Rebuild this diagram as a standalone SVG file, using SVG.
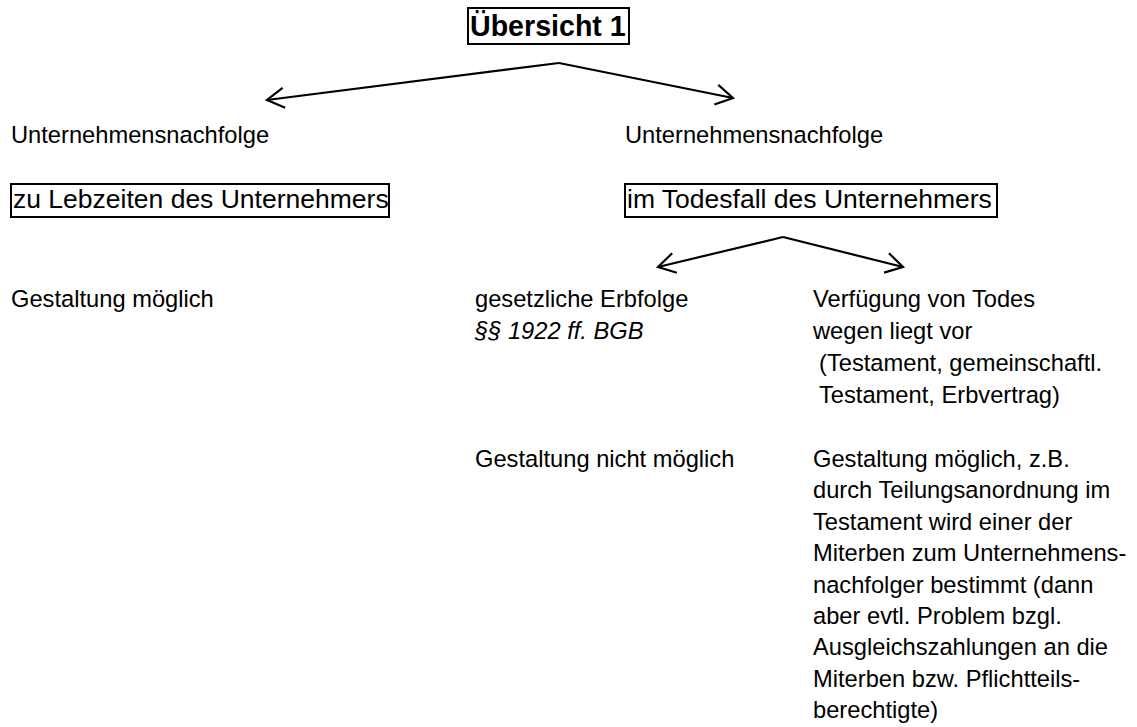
<svg xmlns="http://www.w3.org/2000/svg" width="1137" height="727" viewBox="0 0 1137 727">
<style>
text{font-family:"Liberation Sans",Arial,sans-serif;fill:#000}
.t{font-size:23.7px}
.b{font-size:26.5px}
.h{font-size:28.6px;font-weight:bold}
.i{font-style:italic}
.box{fill:none;stroke:#000;stroke-width:2}
.c{fill:none;stroke:#000;stroke-width:2.2;stroke-linejoin:miter}
</style>
<defs>
<marker id="ah" viewBox="-22 -12 24 24" markerWidth="24" markerHeight="24" refX="0" refY="0" orient="auto" markerUnits="userSpaceOnUse">
<path d="M-17,-10 L0,0 L-17,10" fill="none" stroke="#000" stroke-width="2.2"/>
</marker>
</defs>
<rect width="1137" height="727" fill="#fff"/>
<g id="title">
<rect class="box" x="468" y="8" width="161" height="36"/>
<text class="h" x="470" y="36">Übersicht 1</text>
</g>
<g id="connectors">
<path class="c" d="M559,63 L267,100" marker-end="url(#ah)"/>
<path class="c" d="M559,63 L733,98" marker-end="url(#ah)"/>
<path class="c" d="M783,237 L658,267" marker-end="url(#ah)"/>
<path class="c" d="M783,237 L903,267" marker-end="url(#ah)"/>
</g>
<g id="left-head">
<text class="t" x="11" y="143">Unternehmensnachfolge</text>
</g>
<g id="right-head">
<text class="t" x="625" y="143">Unternehmensnachfolge</text>
</g>
<g id="left-box">
<rect class="box" x="11" y="184" width="378" height="33"/>
<text class="b" x="13" y="208">zu Lebzeiten des Unternehmers</text>
</g>
<g id="right-box">
<rect class="box" x="625" y="184" width="372" height="33"/>
<text class="b" x="627" y="208">im Todesfall des Unternehmers</text>
</g>
<g id="left-result">
<text class="t" x="11" y="307">Gestaltung möglich</text>
</g>
<g id="gesetzlich">
<text class="t" x="475" y="307">gesetzliche Erbfolge</text>
<text class="t i" x="475" y="339">§§ 1922 ff. BGB</text>
</g>
<g id="verfuegung">
<text class="t" x="813" y="307">Verfügung von Todes</text>
<text class="t" x="813" y="339">wegen liegt vor</text>
<text class="t" x="819" y="371">(Testament, gemeinschaftl.</text>
<text class="t" x="819" y="403">Testament, Erbvertrag)</text>
</g>
<g id="gesetzlich-result">
<text class="t" x="475" y="467">Gestaltung nicht möglich</text>
</g>
<g id="verfuegung-result">
<text class="t" x="813" y="467">Gestaltung möglich, z.B.</text>
<text class="t" x="813" y="498.4">durch Teilungsanordnung im</text>
<text class="t" x="813" y="529.8">Testament wird einer der</text>
<text class="t" x="813" y="561.2">Miterben zum Unternehmens-</text>
<text class="t" x="813" y="592.6">nachfolger bestimmt (dann</text>
<text class="t" x="813" y="624">aber evtl. Problem bzgl.</text>
<text class="t" x="813" y="655.4">Ausgleichszahlungen an die</text>
<text class="t" x="813" y="686.8">Miterben bzw. Pflichtteils-</text>
<text class="t" x="813" y="718.2">berechtigte)</text>
</g>
</svg>
